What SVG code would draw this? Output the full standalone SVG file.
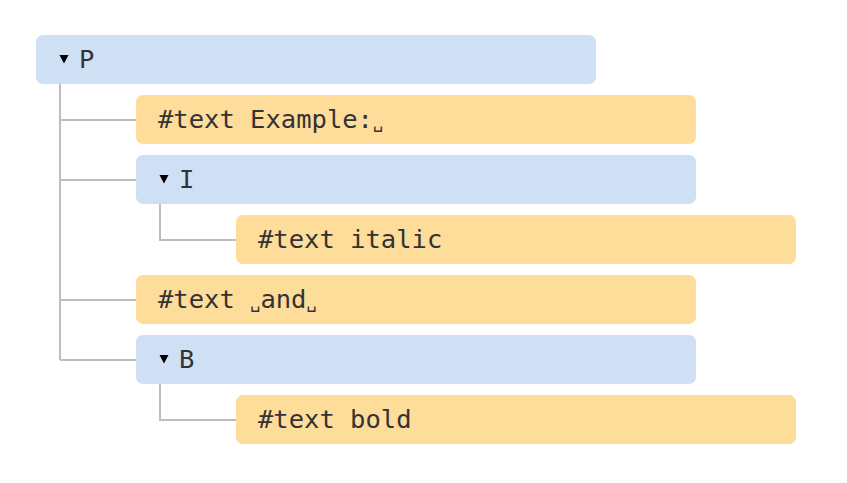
<svg xmlns="http://www.w3.org/2000/svg" width="847" height="483" viewBox="0 0 847 483">
  <style>
    .el { fill: #cfe0f4; }
    .tx { fill: #fedc9a; }
    .lbl { font-family: "DejaVu Sans Mono", "Liberation Mono", monospace; font-size: 25.5px; fill: #333333; }
    .sp { font-size: 17px; }
    .tri { fill: #000000; }
    .link { fill: none; stroke: #bdbdbd; stroke-width: 2; }
  </style>
  <rect width="847" height="483" fill="#ffffff"/>

  <!-- tree connectors -->
  <g id="connectors">
    <path class="link" d="M60 84 V360 M60 120 H136 M60 180 H136 M60 300 H136 M60 360 H136"/>
    <path class="link" d="M160 204 V240 H236"/>
    <path class="link" d="M160 384 V420 H236"/>
  </g>

  <g id="node-p">
    <rect class="el" x="36" y="35" width="560" height="49" rx="7"/>
    <path class="tri" d="M59.5 55 H68.5 L64 63.5 Z"/>
    <text class="lbl" x="79" y="68">P</text>
  </g>

  <g id="node-text-example">
    <rect class="tx" x="136" y="95" width="560" height="49" rx="7"/>
    <text class="lbl" x="158" y="128">#text Example:<tspan class="sp">␣</tspan></text>
  </g>

  <g id="node-i">
    <rect class="el" x="136" y="155" width="560" height="49" rx="7"/>
    <path class="tri" d="M159.5 175 H168.5 L164 183.5 Z"/>
    <text class="lbl" x="179" y="188">I</text>
  </g>

  <g id="node-text-italic">
    <rect class="tx" x="236" y="215" width="560" height="49" rx="7"/>
    <text class="lbl" x="258" y="248">#text italic</text>
  </g>

  <g id="node-text-and">
    <rect class="tx" x="136" y="275" width="560" height="49" rx="7"/>
    <text class="lbl" x="158" y="308">#text <tspan class="sp">␣</tspan>and<tspan class="sp">␣</tspan></text>
  </g>

  <g id="node-b">
    <rect class="el" x="136" y="335" width="560" height="49" rx="7"/>
    <path class="tri" d="M159.5 355 H168.5 L164 363.5 Z"/>
    <text class="lbl" x="179" y="368">B</text>
  </g>

  <g id="node-text-bold">
    <rect class="tx" x="236" y="395" width="560" height="49" rx="7"/>
    <text class="lbl" x="258" y="428">#text bold</text>
  </g>
</svg>
